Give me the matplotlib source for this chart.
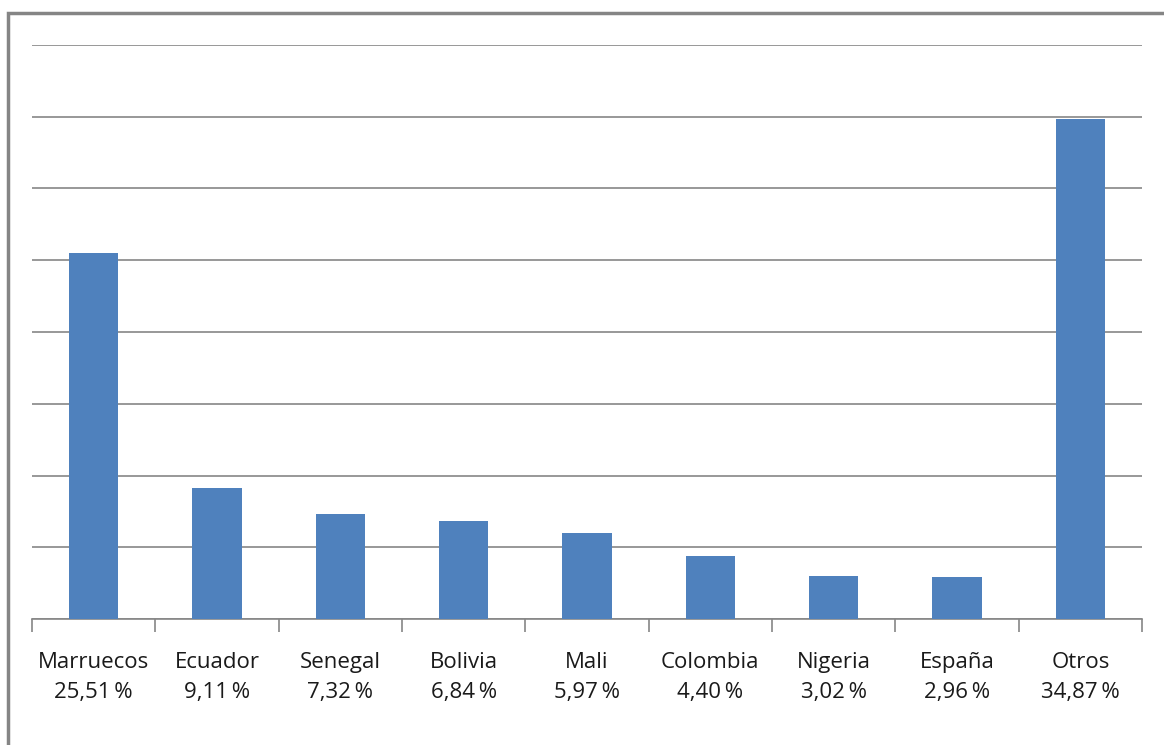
import numpy as np
import matplotlib.pyplot as plt
from matplotlib.patches import Rectangle

paises = ['Marruecos', 'Ecuador', 'Senegal', 'Bolivia', 'Mali',
          'Colombia', 'Nigeria', 'España', 'Otros']
porcentajes = [25.51, 9.11, 7.32, 6.84, 5.97, 4.40, 3.02, 2.96, 34.87]
etiquetas = ['25,51\u2009%', '9,11\u2009%', '7,32\u2009%', '6,84\u2009%', '5,97\u2009%',
             '4,40\u2009%', '3,02\u2009%', '2,96\u2009%', '34,87\u2009%']

plt.rcParams['font.family'] = ['Open Sans', 'DejaVu Sans']

W, H = 1164, 745
fig = plt.figure(figsize=(W / 100, H / 100), dpi=100)
ax = fig.add_axes([32 / W, 1 - 619 / H, (1142 - 32) / W, (619 - 45) / H])

# marco gris exterior (solo se ven izquierda y arriba)
fig.patches.append(Rectangle((7.5 / W, -0.1), 1.2, 1 - 13.5 / H + 0.1,
                             transform=fig.transFigure, fill=False,
                             edgecolor='#858585', linewidth=2.5))

x = np.arange(len(paises))
ax.bar(x, porcentajes, width=0.4, color='#4F81BD', zorder=3)

ax.set_xlim(-0.5, len(paises) - 0.5)
ax.set_ylim(0, 40)
ax.set_yticks(np.arange(0, 41, 5))
ax.set_yticklabels([])
ax.tick_params(axis='y', length=0)
ax.grid(axis='y', color='#868686', linewidth=1.2, zorder=0)

ax.set_xticks(x)
ax.set_xticklabels([p + '\n' + e for p, e in zip(paises, etiquetas)],
                   fontsize=16, linespacing=1.55, color='#1a1a1a')
ax.tick_params(axis='x', which='major', length=0, pad=24)
ax.set_xticks(np.arange(-0.5, len(paises), 1), minor=True)
ax.tick_params(axis='x', which='minor', length=9, width=1.2, color='#868686')

for s in ['left', 'right', 'top']:
    ax.spines[s].set_visible(False)
ax.spines['bottom'].set_color('#868686')
ax.spines['bottom'].set_linewidth(1.2)

fig.savefig('out.png', dpi=100)
